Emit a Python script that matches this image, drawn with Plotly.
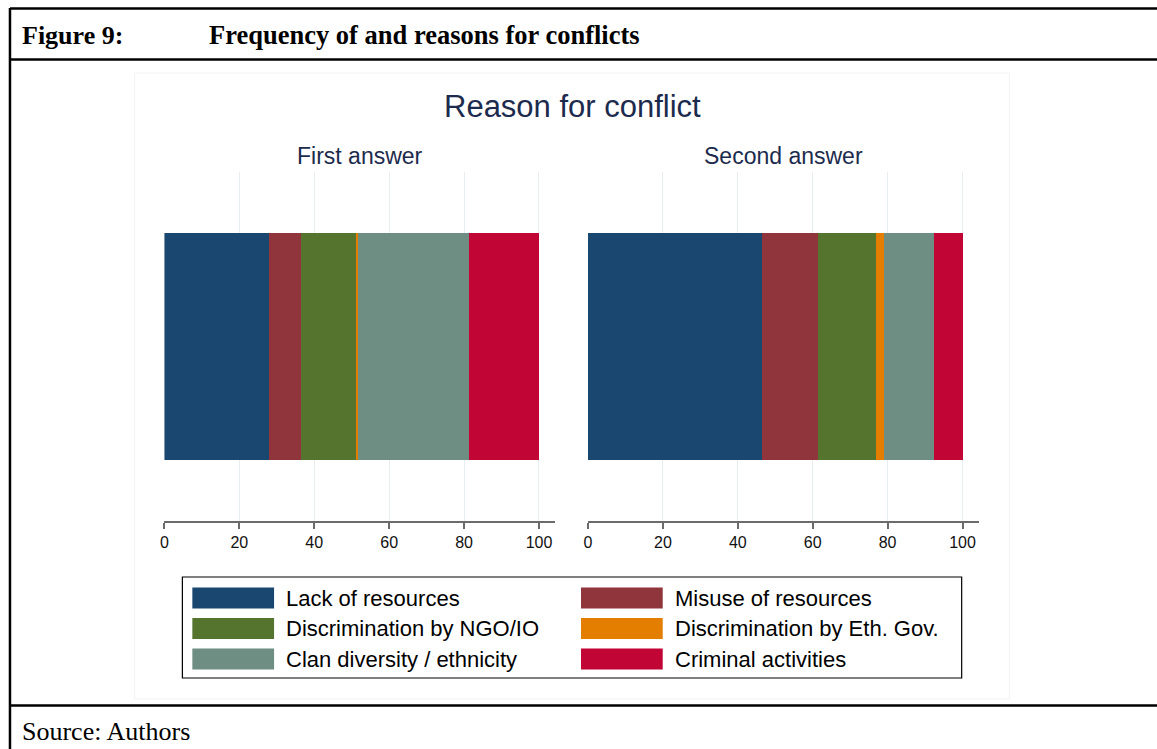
import plotly.graph_objects as go

W, H = 1157, 749

# data (percent of answers)
reasons = ["Lack of resources", "Misuse of resources", "Discrimination by NGO/IO",
           "Discrimination by Eth. Gov.", "Clan diversity / ethnicity", "Criminal activities"]
first_answer = [28.1, 8.5, 14.9, 0.4, 29.4, 18.7]
second_answer = [46.4, 15.0, 15.5, 2.2, 13.3, 7.6]
panels = ["First answer", "Second answer"]
tick_vals = [0, 20, 40, 60, 80, 100]

# Stata s2 colours
colors = ["#1a476f", "#90353b", "#55752f", "#e37e00", "#6e8e84", "#c10534"]


def px(x):
    return x / W


def py(y):
    return 1 - y / H


fig = go.Figure()

for p, vals in enumerate([first_answer, second_answer]):
    for name, v, c in zip(reasons, vals, colors):
        fig.add_trace(go.Bar(
            x=[v], y=[0], orientation="h", width=0.653,
            marker=dict(color=c, line=dict(width=0)),
            name=name, showlegend=False,
            xaxis="x" if p == 0 else "x2",
            yaxis="y" if p == 0 else "y2",
        ))

axis_x = dict(range=[0, 104.3], tickvals=tick_vals, showgrid=True, gridcolor="#e6eef1",
              gridwidth=1.3, zeroline=False, showline=True, linecolor="#6b6b6b", linewidth=1.5,
              ticks="outside", ticklen=6, tickcolor="#6b6b6b", tickwidth=1.5,
              tickfont=dict(family="Liberation Sans, Arial", size=16, color="#111"))
axis_y = dict(range=[-0.5, 0.5], showticklabels=False, showgrid=False, zeroline=False,
              showline=False, domain=[py(521), py(172)])

fig.update_layout(
    width=W, height=H, margin=dict(l=0, r=0, t=0, b=0),
    paper_bgcolor="white", plot_bgcolor="white", barmode="stack", bargap=0,
    showlegend=False,
    xaxis=dict(axis_x, domain=[px(161), px(553)]),
    xaxis2=dict(axis_x, domain=[px(586), px(978)], anchor="y2"),
    yaxis=dict(axis_y, anchor="x"),
    yaxis2=dict(axis_y, anchor="x2"),
)

shapes = []
ann = []

# document frame
blk = dict(color="black", width=2.5)
shapes.append(dict(type="line", xref="paper", yref="paper", x0=px(6), x1=px(6), y0=py(8), y1=py(749), line=blk))
for yy in [8.5, 59.5, 705.5]:
    shapes.append(dict(type="line", xref="paper", yref="paper", x0=px(6), x1=1, y0=py(yy), y1=py(yy), line=blk))
# faint graph border
shapes.append(dict(type="rect", xref="paper", yref="paper", x0=px(131), x1=px(1009), y0=py(699), y1=py(73),
                   line=dict(color="#f2f2f2", width=1)))

serif = "Liberation Serif, Times New Roman"
sans = "Liberation Sans, Arial"
ann.append(dict(text="<b>Figure 9:</b>", x=px(16), y=py(35), xanchor="left", yanchor="middle",
                font=dict(family=serif, size=26, color="black")))
ann.append(dict(text="<b>Frequency of and reasons for conflicts</b>", x=px(204), y=py(35), xanchor="left",
                yanchor="middle", font=dict(family=serif, size=26.5, color="black")))
ann.append(dict(text="Source: Authors", x=px(16), y=py(731), xanchor="left", yanchor="middle",
                font=dict(family=serif, size=26, color="black")))

navy = "#1c2b4d"
ann.append(dict(text="Reason for conflict", x=px(570), y=py(106), xanchor="center", yanchor="middle",
                font=dict(family=sans, size=31, color=navy)))
for name, cx in zip(panels, [357, 782]):
    ann.append(dict(text=name, x=px(cx), y=py(156), xanchor="center", yanchor="middle",
                    font=dict(family=sans, size=23, color=navy)))

# legend box
shapes.append(dict(type="rect", xref="paper", yref="paper", x0=px(179), x1=px(961), y0=py(678), y1=py(577),
                   line=dict(color="black", width=1.2)))
for i, (name, c) in enumerate(zip(reasons, colors)):
    col, row = i % 2, i // 2
    sx = 189 if col == 0 else 579
    cy = 598 + row * 30.5
    shapes.append(dict(type="rect", xref="paper", yref="paper", x0=px(sx), x1=px(sx + 82),
                       y0=py(cy + 10.5), y1=py(cy - 10.5), fillcolor=c, line=dict(width=0)))
    ann.append(dict(text=name, x=px(sx + 92), y=py(cy), xanchor="left", yanchor="middle",
                    font=dict(family=sans, size=22, color="black")))

for a in ann:
    a.update(xref="paper", yref="paper", showarrow=False)
fig.update_layout(shapes=shapes, annotations=ann)

# drop the browser's default body margin so the page lines up with the window
fig.write_html("out.html", config={"displayModeBar": False},
               post_script="document.body.style.margin='0';")
